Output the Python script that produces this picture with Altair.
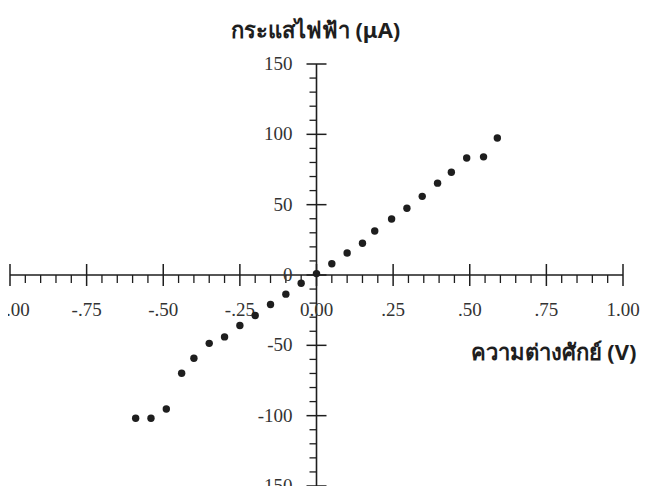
import altair as alt
import pandas as pd

# ---- data ----
volt = [-0.59, -0.54, -0.49, -0.44, -0.40, -0.35, -0.30, -0.25, -0.20, -0.15, -0.10, -0.05,
        0.00, 0.05, 0.10, 0.15, 0.19, 0.245, 0.295, 0.345, 0.395, 0.44, 0.49, 0.545, 0.59]
current = [-101.8, -101.8, -95.3, -69.8, -59.2, -48.6, -44.0, -35.9, -28.8, -21.0, -13.6, -5.9,
           1.0, 8.0, 15.6, 22.6, 31.3, 39.8, 47.4, 55.9, 65.3, 73.0, 83.2, 84.0, 97.4]

x_major = [-1.0, -0.75, -0.5, -0.25, 0.0, 0.25, 0.5, 0.75, 1.0]
x_labels = ["-1.00", "-.75", "-.50", "-.25", "0.00", ".25", ".50", ".75", "1.00"]
x_minor = [round(-1 + 0.05 * i, 2) for i in range(41)]
x_minor = [v for v in x_minor if round(v / 0.25, 6) != round(v / 0.25)]

y_major = [-150, -100, -50, 0, 50, 100, 150]
y_labels = ["-150", "-100", "-50", "0", "50", "100", "150"]
y_minor = [v for v in range(-150, 151, 10) if v % 50 != 0]

x_title = "ความต่างศักย์ (V)"
y_title = "กระแสไฟฟ้า (μA)"

W, H = 613, 422
INK = "#1e1e1e"
LABEL_FONT = "Liberation Serif"
THAI_FONT = "Noto Sans"

xs = alt.Scale(domain=[-1, 1], nice=False, zero=False)
ys = alt.Scale(domain=[-150, 150], nice=False, zero=False)

x_axis = alt.Axis(domain=False, ticks=False, labels=False, grid=False,
                  title=x_title, titleFont=THAI_FONT, titleFontSize=22,
                  titleFontWeight="bold", titleColor=INK,
                  titleX=543, titleY=-134, titleAlign="center",
                  titleBaseline="middle", titleAngle=0)
y_axis = alt.Axis(domain=False, ticks=False, labels=False, grid=False,
                  title=y_title, titleFont=THAI_FONT, titleFontSize=22,
                  titleFontWeight="bold", titleColor=INK,
                  titleX=305, titleY=-34, titleAlign="center",
                  titleBaseline="middle", titleAngle=0)

pts = pd.DataFrame({"v": volt, "i": current})
xmaj = pd.DataFrame({"v": x_major, "lab": x_labels, "z": 0})
xmin = pd.DataFrame({"v": x_minor, "z": 0})
ymaj = pd.DataFrame({"v": y_major, "lab": y_labels, "z": 0})
ymin = pd.DataFrame({"v": y_minor, "z": 0})

X = lambda f: alt.X(f, type="quantitative", scale=xs, axis=x_axis)
Y = lambda f: alt.Y(f, type="quantitative", scale=ys, axis=y_axis)

points = alt.Chart(pts).mark_point(filled=True, size=55, color=INK, opacity=1).encode(
    x=X("v"), y=Y("i"))

x_line = alt.Chart(pd.DataFrame({"a": [-1.0], "b": [1.0], "z": [0]})).mark_rule(
    color=INK, strokeWidth=1.6).encode(x=X("a"), x2="b", y=Y("z"))
y_line = alt.Chart(pd.DataFrame({"a": [-150], "b": [150], "z": [0]})).mark_rule(
    color=INK, strokeWidth=1.6).encode(y=Y("a"), y2="b", x=X("z"))

x_major_ticks = alt.Chart(xmaj).mark_tick(orient="vertical", size=22, thickness=1.5,
                                          color=INK, opacity=1).encode(x=X("v"), y=Y("z"))
x_minor_ticks = alt.Chart(xmin).mark_tick(orient="vertical", size=8, thickness=1.3,
                                          yOffset=4, color=INK, opacity=1).encode(x=X("v"), y=Y("z"))
y_major_ticks = alt.Chart(ymaj).mark_tick(orient="horizontal", size=20, thickness=1.5,
                                          color=INK, opacity=1).encode(y=Y("v"), x=X("z"))
y_minor_ticks = alt.Chart(ymin).mark_tick(orient="horizontal", size=7, thickness=1.3,
                                          xOffset=-3.5, color=INK, opacity=1).encode(y=Y("v"), x=X("z"))

x_tick_labels = alt.Chart(xmaj).mark_text(font=LABEL_FONT, fontSize=19, color="#333333",
                                          dy=35, align="center", baseline="middle").encode(
    x=X("v"), y=Y("z"), text="lab:N")
y_tick_labels = alt.Chart(ymaj).mark_text(font=LABEL_FONT, fontSize=19, color="#333333",
                                          dx=-24, align="right", baseline="middle").encode(
    y=Y("v"), x=X("z"), text="lab:N")

chart = alt.layer(
    x_line, y_line, x_major_ticks, x_minor_ticks, y_major_ticks, y_minor_ticks,
    x_tick_labels, y_tick_labels, points
).properties(
    width=W, height=H,
    autosize=alt.AutoSizeParams(type="none"),
    padding={"left": 2, "top": 56, "right": 18, "bottom": 0},
    background="white",
).configure_view(stroke=None)

chart.save("out.html", embed_options={"renderer": "svg", "actions": False})
